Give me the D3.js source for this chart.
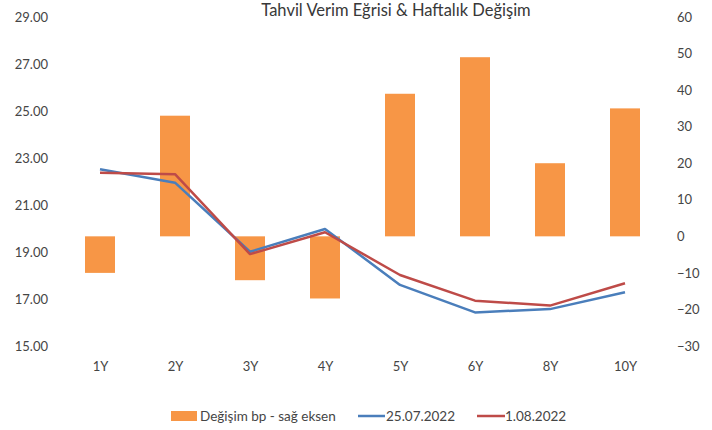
<!DOCTYPE html>
<html><head><meta charset="utf-8">
<script src="https://cdn.jsdelivr.net/npm/d3@7"></script>
<style>body{margin:0;background:#fff}svg{display:block}text{font-family:Lato,"Open Sans",sans-serif}</style>
</head><body><svg id="c" width="712" height="430"></svg>
<script>
const categories = ["1Y","2Y","3Y","4Y","5Y","6Y","8Y","10Y"];
const changeBp = [-10, 33, -12, -17, 39, 49, 20, 35];
const yield2507 = [22.52, 21.95, 19.01, 19.98, 17.60, 16.43, 16.57, 17.29];
const yield0108 = [22.37, 22.31, 18.91, 19.84, 18.02, 16.93, 16.72, 17.67];
const leftTicks = [15,17,19,21,23,25,27,29];
const rightTicks = [-30,-20,-10,0,10,20,30,40,50,60];
const title = "Tahvil Verim Eğrisi & Haftalık Değişim";
const seriesNames = ["Değişim bp - sağ eksen","25.07.2022","1.08.2022"];

const svg = d3.select("#c");
const plotTop = 17, plotBottom = 346;
const textColor = "#454545";
const xPoint = d3.scalePoint().domain(categories).range([100, 625]);
const yL = d3.scaleLinear().domain([15,29]).range([plotBottom, plotTop]);
const yR = d3.scaleLinear().domain([-30,60]).range([plotBottom, plotTop]);

svg.append("text").attr("x",396).attr("y",16).attr("text-anchor","middle")
  .attr("font-size",16.5).attr("fill","#383838").text(title);

// bars
svg.append("g").selectAll("rect").data(categories).join("rect")
  .attr("x", d => xPoint(d) - 15).attr("width", 30)
  .attr("y", (d,i) => yR(Math.max(0, changeBp[i])))
  .attr("height", (d,i) => Math.abs(yR(changeBp[i]) - yR(0)))
  .attr("fill", "#f79646");

const line = arr => d3.line().x((d,i) => xPoint(categories[i])).y(d => yL(d))(arr);
svg.append("path").attr("d", line(yield2507)).attr("fill","none").attr("stroke","#4a7ebb").attr("stroke-width",2.5).attr("stroke-linejoin","round");
svg.append("path").attr("d", line(yield0108)).attr("fill","none").attr("stroke","#be4b48").attr("stroke-width",2.5).attr("stroke-linejoin","round");

const styleAxis = g => {
  g.select(".domain").remove();
  g.selectAll("text").attr("font-size",13).attr("fill",textColor).attr("font-family","Lato,'Open Sans',sans-serif");
};

const axL = d3.axisLeft(yL).tickValues(leftTicks).tickFormat(d3.format(".2f")).tickSize(0).tickPadding(0);
svg.append("g").attr("transform","translate(48,0)").call(axL).call(styleAxis);

const axR = d3.axisRight(yR).tickValues(rightTicks).tickSize(0).tickPadding(0);
svg.append("g").attr("transform","translate(677,0)").call(axR).call(styleAxis);

const axB = d3.axisBottom(xPoint).tickSize(0).tickPadding(0);
svg.append("g").attr("transform","translate(0,362)").call(axB).call(styleAxis);

// legend
const lg = svg.append("g").attr("font-size",13.5).attr("fill",textColor);
lg.append("rect").attr("x",171).attr("y",411).attr("width",26).attr("height",10).attr("fill","#f79646");
lg.append("text").attr("x",200).attr("y",420.5).text(seriesNames[0]);
lg.append("line").attr("x1",358).attr("x2",385).attr("y1",416).attr("y2",416).attr("stroke","#4a7ebb").attr("stroke-width",2.5);
lg.append("text").attr("x",386).attr("y",420.5).text(seriesNames[1]);
lg.append("line").attr("x1",477).attr("x2",505).attr("y1",416).attr("y2",416).attr("stroke","#be4b48").attr("stroke-width",2.5);
lg.append("text").attr("x",505).attr("y",420.5).text(seriesNames[2]);
</script></body></html>
